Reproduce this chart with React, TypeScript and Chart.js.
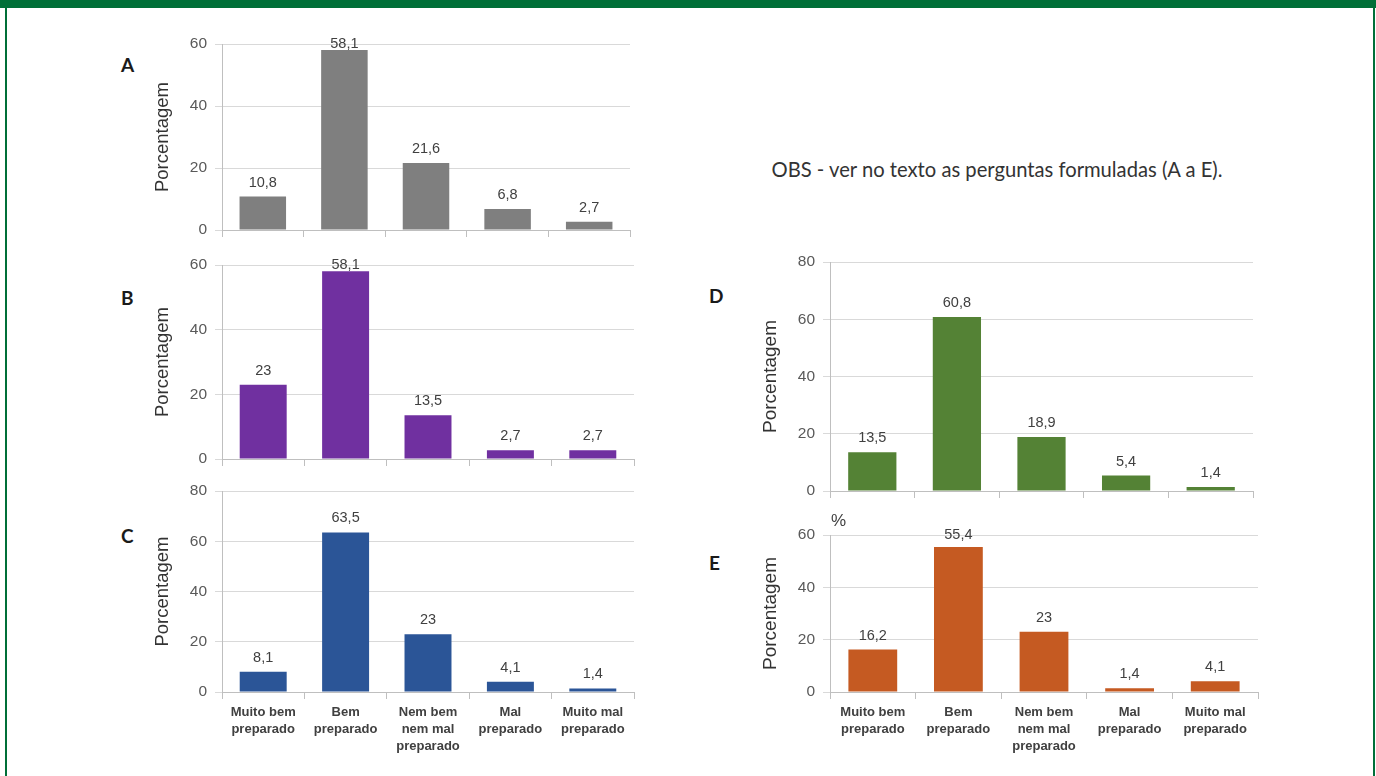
import React, { useEffect, useRef } from "react";
import { Chart, registerables } from "chart.js";

Chart.register(...registerables);

const categories: string[][] = [
  ["Muito bem", "preparado"],
  ["Bem", "preparado"],
  ["Nem bem", "nem mal", "preparado"],
  ["Mal", "preparado"],
  ["Muito mal", "preparado"],
];

const valuesA = [10.8, 58.1, 21.6, 6.8, 2.7];
const valuesB = [23, 58.1, 13.5, 2.7, 2.7];
const valuesC = [8.1, 63.5, 23, 4.1, 1.4];
const valuesD = [13.5, 60.8, 18.9, 5.4, 1.4];
const valuesE = [16.2, 55.4, 23, 1.4, 4.1];

const yTitle = "Porcentagem";
const obsText = "OBS - ver no texto as perguntas formuladas (A a E).";

const FONT = "'Liberation Sans', Arial, sans-serif";

const valueLabelPlugin = {
  id: "valueLabels",
  afterDatasetsDraw(chart: any) {
    const { ctx, chartArea } = chart;
    const meta = chart.getDatasetMeta(0);
    const data = chart.data.datasets[0].data as number[];
    ctx.save();
    ctx.font = `14.5px ${FONT}`;
    ctx.fillStyle = "#404040";
    ctx.textAlign = "center";
    ctx.textBaseline = "middle";
    meta.data.forEach((bar: any, i: number) => {
      let y = bar.y - 14;
      if (y < chartArea.top) y = chartArea.top;
      ctx.fillText(String(data[i]).replace(".", ","), bar.x, y);
    });
    ctx.restore();
  },
};

type PanelProps = {
  values: number[];
  color: string;
  max: number;
  showLabels: boolean;
  left: number;
  top: number;
  width: number;
  height: number;
  yWidth: number;
  xHeight: number;
  titleSize: number;
};

function Panel(p: PanelProps) {
  const ref = useRef<HTMLCanvasElement | null>(null);
  useEffect(() => {
    if (!ref.current) return;
    const chart = new Chart(ref.current, {
      type: "bar",
      data: {
        labels: categories,
        datasets: [
          {
            data: p.values,
            backgroundColor: p.color,
            borderWidth: 0,
            categoryPercentage: 1,
            barPercentage: 0.57,
          },
        ],
      },
      options: {
        animation: false,
        responsive: false,
        devicePixelRatio: 1,
        layout: { padding: { top: 20, right: 4, left: 0, bottom: 0 } },
        plugins: { legend: { display: false }, tooltip: { enabled: false } },
        scales: {
          x: {
            afterFit: (s: any) => {
              s.height = p.xHeight;
            },
            grid: {
              offset: true,
              drawOnChartArea: false,
              drawTicks: true,
              tickLength: 7,
              color: "#bfbfbf",
            },
            border: { color: "#bfbfbf", width: 1 },
            ticks: {
              display: p.showLabels,
              color: "#404040",
              padding: 5,
              maxRotation: 0,
              autoSkip: false,
              font: { family: FONT, size: 13, weight: "bold", lineHeight: 1.3 },
            },
          },
          y: {
            min: 0,
            max: p.max,
            afterFit: (s: any) => {
              s.width = p.yWidth;
            },
            ticks: {
              stepSize: 20,
              color: "#595959",
              padding: 8,
              font: { family: FONT, size: 15.5 },
            },
            grid: { color: "#d9d9d9", tickLength: 7 },
            border: { color: "#bfbfbf", width: 1 },
            title: {
              display: true,
              text: yTitle,
              color: "#333333",
              padding: 0,
              font: { family: FONT, size: p.titleSize, lineHeight: 1.2 },
            },
          },
        },
      },
      plugins: [valueLabelPlugin],
    } as any);
    return () => chart.destroy();
  }, []);
  return (
    <canvas
      ref={ref}
      width={p.width}
      height={p.height}
      style={{
        position: "absolute",
        left: p.left,
        top: p.top,
        width: p.width,
        height: p.height,
      }}
    />
  );
}

const letterStyle = (left: number, top: number): React.CSSProperties => ({
  position: "absolute",
  left,
  top,
  fontFamily: "Lato, 'Liberation Sans', sans-serif",
  fontWeight: 700,
  fontSize: 19,
  color: "#1a1a1a",
  lineHeight: "20px",
});

export default function App() {
  return (
    <div
      style={{
        position: "absolute",
        left: 0,
        top: 0,
        width: 1376,
        height: 776,
        background: "#ffffff",
        overflow: "hidden",
      }}
    >
      <div style={{ position: "absolute", left: 0, top: 0, width: 1376, height: 8, background: "#006f38" }} />
      <div style={{ position: "absolute", left: 5, top: 0, width: 2, height: 776, background: "#006f38" }} />
      <div style={{ position: "absolute", left: 1373, top: 0, width: 2, height: 776, background: "#006f38" }} />

      <Panel values={valuesA} color="#7f7f7f" max={60} showLabels={false}
        left={152} top={24} width={482} height={226} yWidth={70} xHeight={20} titleSize={18.5} />
      <Panel values={valuesB} color="#7030a0" max={60} showLabels={false}
        left={152} top={245} width={486} height={234} yWidth={70} xHeight={20} titleSize={18.5} />
      <Panel values={valuesC} color="#2b5597" max={80} showLabels={true}
        left={152} top={471} width={486} height={292} yWidth={70} xHeight={71} titleSize={18.5} />
      <Panel values={valuesD} color="#548235" max={80} showLabels={false}
        left={759} top={242} width={498} height={269} yWidth={71} xHeight={20} titleSize={19} />
      <Panel values={valuesE} color="#c55a22" max={60} showLabels={true}
        left={759} top={515} width={503} height={248} yWidth={71} xHeight={71} titleSize={19} />

      <div style={letterStyle(121, 55)}>A</div>
      <div style={letterStyle(121, 288)}>B</div>
      <div style={letterStyle(121, 526)}>C</div>
      <div style={letterStyle(709, 286)}>D</div>
      <div style={letterStyle(709, 553)}>E</div>

      <div
        style={{
          position: "absolute",
          left: 997,
          top: 157,
          transform: "translateX(-50%)",
          whiteSpace: "nowrap",
          fontFamily: "Lato, 'Liberation Sans', sans-serif",
          fontSize: 20.2,
          color: "#333333",
          lineHeight: "24px",
        }}
      >
        {obsText}
      </div>
      <div
        style={{
          position: "absolute",
          left: 831,
          top: 511,
          fontFamily: FONT,
          fontSize: 17,
          color: "#404040",
          lineHeight: "20px",
        }}
      >
        %
      </div>
    </div>
  );
}
